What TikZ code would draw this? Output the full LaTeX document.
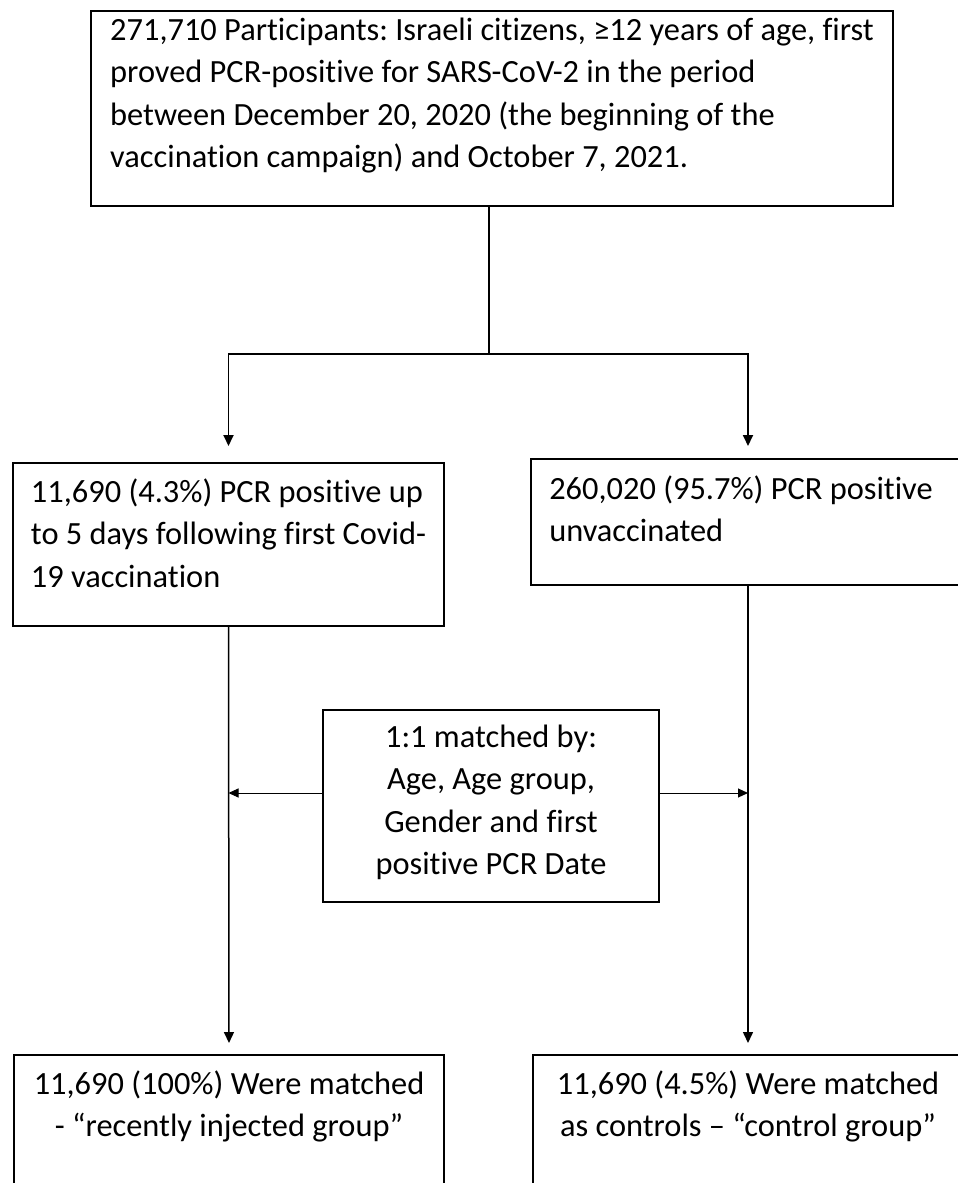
\documentclass[tikz,border=0pt]{standalone}
\usepackage{fontspec}
\setmainfont{Carlito}[Ligatures={TeX,NoCommon}]
\usetikzlibrary{arrows.meta}

\begin{document}
\begin{tikzpicture}[x=0.5pt,y=-0.5pt,
		box/.style={draw,line width=1pt,anchor=north,inner xsep=9pt,inner ysep=0pt,
			font=\fontsize{16.2}{21.25}\selectfont\frenchspacing},
		tree/.style={line width=0.9pt},
		down/.style={line width=0.75pt,-{Triangle[length=5.5pt,width=5pt]}},
		side/.style={line width=0.5pt,-{Triangle[length=5pt,width=4.5pt]}}]
		\clip (0,0) rectangle (958,1183);

		\node[box,minimum width=401pt,align=left,text height=78.25pt,text depth=19.25pt] (top) at (492,10)
			{271,710 Participants: Israeli citizens, ≥12 years of age, first\\
			proved PCR-positive for SARS-CoV-2 in the period\\
			between December 20, 2020 (the beginning of the\\
			vaccination campaign) and October 7, 2021.};

		\node[box,minimum width=214.5pt,align=left,text height=62pt,text depth=19.5pt] (vacc) at (228.5,462)
			{11,690 (4.3\%) PCR positive up\\ to 5 days following first Covid-\\ 19 vaccination};
		\node[box,minimum width=215pt,align=left,text height=41.25pt,text depth=21.75pt] (unvacc) at (748,458)
			{260,020 (95.7\%) PCR positive\hspace*{7pt}\\ unvaccinated};

		\node[box,minimum width=168pt,align=center,text height=82.25pt,text depth=13.75pt] (match) at (491,709)
			{1:1 matched by:\\ Age, Age group,\\ Gender and first\\ positive PCR Date};

		\node[box,minimum width=215pt,align=center,text height=40.75pt,text depth=47pt] (cases) at (229,1054)
			{11,690 (100\%) Were matched\\ - “recently injected group”};
		\node[box,minimum width=215pt,align=center,text height=40.75pt,text depth=47pt] (controls) at (748,1054)
			{11,690 (4.5\%) Were matched\\ as controls – “control group”};

		% split below the first box
		\coordinate (split) at (489,354);
		\draw[tree] (split |- top.south) -- (split);
		\draw[tree,down,line width=0.9pt,shorten >=8pt] (split) -| (vacc.north);
		\draw[tree,down,line width=0.9pt,shorten >=6pt] (split) -| (unvacc.north);

		\draw[down,shorten >=5.5pt] (vacc.south) -- (cases.north);
		\draw[down,shorten >=5.5pt] (unvacc.south) -- (controls.north);

		\draw[side] ([yshift=6.5pt]match.west) -- ([yshift=6.5pt]match.west -| vacc.south);
		\draw[side] ([yshift=6.5pt]match.east) -- ([yshift=6.5pt]match.east -| unvacc.south);
	\end{tikzpicture}
\end{document}
